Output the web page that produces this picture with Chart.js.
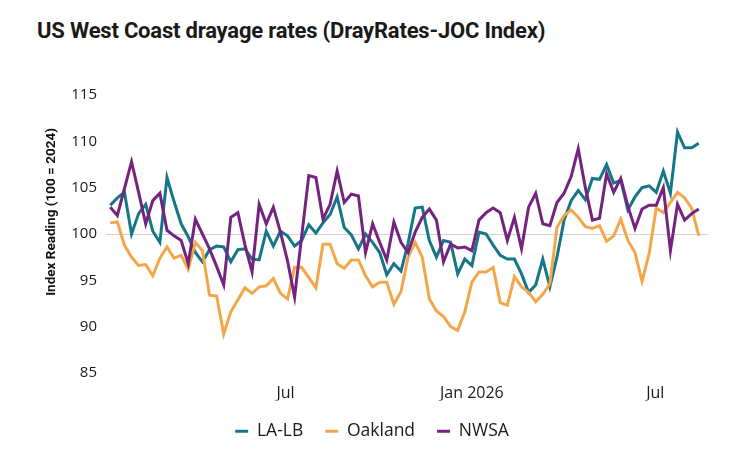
<!DOCTYPE html>
<html lang="en">
<head>
    <meta charset="UTF-8">
    <title>US West Coast drayage rates (DrayRates-JOC Index)</title>
    <style>
        html, body {
            margin: 0;
            padding: 0;
            background: #fff;
        }
        .wrap {
            position: relative;
            width: 740px;
            height: 450px;
        }
        .title {
            position: absolute;
            left: 37px;
            top: 18px;
            font-family: Roboto, sans-serif;
            font-weight: 700;
            font-size: 22px;
            letter-spacing: -0.2px;
            color: #1a1a1a;
            white-space: nowrap;
        }
        canvas {
            position: absolute;
            left: 0;
            top: 0;
        }
    </style>
</head>
<body>
    <div class="wrap">
        <div class="title">US West Coast drayage rates (DrayRates-JOC Index)</div>
        <canvas id="chart" width="740" height="450"></canvas>
    </div>

    <script src="https://cdn.jsdelivr.net/npm/chart.js"></script>
    <script>
        // Weekly readings, first week 2025-01-09
        const firstWeek = '2025-01-09';
        const seriesNames = ['LA-LB', 'Oakland', 'NWSA'];
        const seriesColors = ['#147686', '#f4a64a', '#74237f'];

        const laLb = [
            103.1, 103.9, 104.5, 100.0, 102.2, 103.2, 100.3, 99.1, 106.1, 103.5,
            101.1, 99.7, 98.0, 97.0, 98.3, 98.7, 98.6, 97.0, 98.3, 98.4,
            97.3, 97.2, 100.3, 98.7, 100.3, 99.8, 98.7, 99.3, 101.0, 100.1,
            101.2, 102.1, 104.0, 100.7, 99.9, 98.4, 100.0, 99.1, 98.0, 95.6,
            96.8, 96.0, 99.0, 102.8, 102.9, 99.3, 97.5, 99.3, 99.1, 95.7,
            97.3, 96.6, 100.2, 100.0, 98.8, 97.7, 97.3, 97.3, 95.7, 93.7,
            94.5, 97.3, 94.3, 97.5, 101.5, 103.6, 104.7, 103.7, 106.0, 105.9,
            107.5, 105.5, 105.8, 102.6, 104.0, 105.0, 105.2, 104.5, 106.8, 104.4,
            111.0, 109.3, 109.3, 109.8
        ];
        const oakland = [
            101.2, 101.3, 98.8, 97.5, 96.6, 96.7, 95.5, 97.4, 98.6, 97.4,
            97.7, 96.2, 99.1, 98.2, 93.4, 93.3, 89.2, 91.6, 92.9, 94.2,
            93.6, 94.3, 94.4, 95.2, 93.6, 93.0, 96.4, 96.4, 95.3, 94.2,
            98.9, 98.9, 96.8, 96.3, 97.2, 97.2, 95.5, 94.3, 94.8, 94.8,
            92.4, 93.8, 97.5, 99.1, 97.5, 93.0, 91.7, 91.1, 90.0, 89.6,
            91.6, 94.8, 95.9, 95.9, 96.4, 92.6, 92.3, 95.4, 94.3, 93.7,
            92.7, 93.5, 94.6, 100.7, 102.0, 102.6, 101.8, 100.8, 100.6, 100.9,
            99.2, 99.8, 101.6, 99.3, 98.0, 94.9, 97.9, 102.8, 102.3, 103.4,
            104.5, 103.9, 102.8, 99.8
        ];
        const nwsa = [
            102.9, 102.0, 104.9, 107.8, 104.5, 101.1, 103.6, 104.4, 100.4, 99.8,
            99.3, 96.8, 101.6, 100.0, 98.4, 96.5, 94.5, 101.8, 102.3, 98.8,
            95.9, 103.2, 101.1, 102.9, 100.2, 97.1, 93.2, 99.8, 106.3, 106.1,
            101.6, 103.2, 106.8, 103.4, 104.3, 104.1, 98.0, 101.1, 99.1, 97.2,
            101.3, 99.1, 98.0, 100.2, 101.8, 102.7, 101.5, 97.0, 98.9, 98.5,
            98.6, 98.2, 101.5, 102.3, 102.8, 102.3, 99.3, 101.8, 98.4, 102.9,
            104.4, 101.1, 100.9, 103.4, 104.4, 106.2, 109.2, 105.0, 101.5, 101.7,
            106.5, 104.5, 106.0, 103.0, 100.6, 102.7, 103.1, 103.1, 105.0, 98.2,
            103.2, 101.5, 102.2, 102.7
        ];

        const xTickDates = ['2025-07-01', '2026-01-01', '2026-07-01'];
        const xTickLabels = ['Jul', 'Jan 2026', 'Jul'];
        const yTitle = 'Index Reading (100 = 2024)';

        // weeks since the first reading
        const weekMs = 7 * 24 * 3600 * 1000;
        const weekOf = d => (Date.parse(d) - Date.parse(firstWeek)) / weekMs;
        const xTickPos = xTickDates.map(weekOf);

        const allSeries = [laLb, oakland, nwsa];
        const datasets = allSeries.map((values, s) => ({
            label: seriesNames[s],
            data: values.map((v, i) => ({ x: i, y: v })),
            borderColor: seriesColors[s],
            backgroundColor: seriesColors[s],
            borderWidth: 3,
            pointRadius: 0,
            tension: 0,
            order: allSeries.length - s   // NWSA drawn on top
        }));

        const titleFont = 'Roboto, sans-serif';
        const font = '"Open Sans", sans-serif';

        // axis title sits a bit above the plot middle in the original
        const yTitlePlugin = {
            id: 'yTitle',
            afterDraw(chart) {
                const ctx = chart.ctx;
                ctx.save();
                ctx.translate(52, 212);
                ctx.rotate(-Math.PI / 2);
                ctx.font = 'bold 13.5px ' + titleFont;
                ctx.fillStyle = '#111';
                ctx.textAlign = 'center';
                ctx.textBaseline = 'middle';
                ctx.fillText(yTitle, 0, 0);
                ctx.restore();
            }
        };

        new Chart(document.getElementById('chart'), {
            type: 'line',
            data: { datasets },
            options: {
                responsive: false,
                animation: false,
                layout: { padding: { top: 95, right: 32, left: 36, bottom: 0 } },
                scales: {
                    x: {
                        type: 'linear',
                        min: -0.6,
                        max: 84.3,
                        grid: { display: false, drawTicks: false },
                        border: { display: false },
                        afterBuildTicks: scale => {
                            scale.ticks = xTickPos.map(v => ({ value: v }));
                        },
                        afterFit: scale => { scale.height = 27.5; },
                        ticks: {
                            autoSkip: false,
                            maxRotation: 0,
                            padding: 11,
                            color: '#1a1a1a',
                            font: { family: font, size: 16 },
                            callback: (value, index) => xTickLabels[index]
                        }
                    },
                    y: {
                        min: 85,
                        max: 115,
                        grid: {
                            drawTicks: false,
                            color: ctx => ctx.tick && ctx.tick.value === 100 ? '#d2d2d2' : 'rgba(0,0,0,0)'
                        },
                        border: { display: false },
                        afterFit: scale => { scale.width = 70; },
                        ticks: {
                            stepSize: 5,
                            padding: 9,
                            color: '#1a1a1a',
                            font: { family: font, size: 15 }
                        }
                    }
                },
                plugins: {
                    tooltip: { enabled: false },
                    legend: {
                        position: 'bottom',
                        labels: {
                            boxWidth: 13,
                            boxHeight: 3,
                            padding: 22,
                            color: '#1a1a1a',
                            font: { family: font, size: 17.5 },
                            sort: (a, b) => a.datasetIndex - b.datasetIndex,
                            generateLabels: chart =>
                                Chart.defaults.plugins.legend.labels.generateLabels(chart)
                                    .map(item => ({ ...item, lineWidth: 0, fillStyle: item.strokeStyle }))
                        }
                    }
                }
            },
            plugins: [yTitlePlugin]
        });
    </script>
</body>
</html>
